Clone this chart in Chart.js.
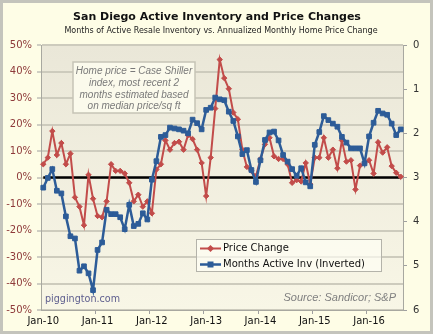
<!DOCTYPE html>
<html>
<head>
<meta charset="utf-8">
<script src="https://cdn.jsdelivr.net/npm/chart.js@4.4.1/dist/chart.umd.min.js"></script>
<style>
  html, body { margin: 0; padding: 0; background: #c4c4bc; }
</style>
</head>
<body>
<canvas id="invChart" width="433" height="334"></canvas>
<script>
// Monthly categories Jan-10 .. Aug-16
const monthNames = ['Jan','Feb','Mar','Apr','May','Jun','Jul','Aug','Sep','Oct','Nov','Dec'];
const yearSuffixes = ['10','11','12','13','14','15','16'];
const categories = [];
yearSuffixes.forEach(y => monthNames.forEach(m => categories.push(m + '-' + y)));
categories.length = 80;

// Annualized monthly home price change (%)
const priceChange = [
  5, 7.5, 17.5, 8.5, 13, 5, 9, -7.5, -11, -18, 1, -8,
  -14.5, -15, -9, 5, 2.5, 2.5, 1.5, -2, -9, -6.5, -11, -9,
  -13.5, 3, 5, 14, 10.5, 13, 13.5, 10.5, 16, 14.5, 10.5, 5.5,
  -7, 7.5, 26, 44.5, 37.5, 33.5, 24.5, 22, 10.5, 4, 2.5, 0.5,
  7, 12.5, 15, 8, 7, 7, 5, -2, -1, -1.5, 5.5, -2.5,
  7.5, 7.5, 15, 7.5, 10.5, 3.5, 14, 6, 6.5, -4.5, 4.5, 5.5,
  6.5, 1.5, 13.3, 9.4, 11.4, 4.3, 1.8, 0.3
];

// Months of active resale inventory (plotted on an inverted axis)
const monthsInventory = [
  3.23, 3.01, 2.81, 3.30, 3.36, 3.88, 4.33, 4.38, 5.11, 5.01, 5.17, 5.55,
  4.64, 4.47, 3.73, 3.83, 3.83, 3.90, 4.17, 3.62, 4.10, 4.05, 3.81, 3.95,
  3.05, 2.63, 2.08, 2.04, 1.87, 1.89, 1.91, 1.94, 2.00, 1.69, 1.77, 1.91,
  1.47, 1.42, 1.19, 1.23, 1.25, 1.51, 1.72, 2.07, 2.47, 2.38, 2.83, 3.10,
  2.61, 2.15, 1.98, 1.96, 2.16, 2.49, 2.64, 2.81, 2.96, 2.79, 3.11, 3.20,
  2.26, 1.97, 1.61, 1.70, 1.78, 1.85, 2.08, 2.21, 2.34, 2.34, 2.34, 2.68,
  2.07, 1.76, 1.49, 1.55, 1.58, 1.78, 2.04, 1.91
];

const zeroLevel = 0;
const noteLines = ['Home price = Case Shiller', 'index, most recent 2', 'months estimated based', 'on median price/sq ft'];

const RED = '#c24c4a';
const BLUE = '#2d5c98';

// background frame, plot gradient, titles, note box and legend
const decorations = {
  id: 'decorations',
  beforeDraw(chart) {
    const { ctx, width, height, chartArea: a } = chart;
    ctx.save();
    ctx.fillStyle = '#c4c4bc';
    ctx.fillRect(0, 0, width, height);
    ctx.fillStyle = '#fefde6';
    ctx.fillRect(3, 3, width - 6, height - 6);
    const g = ctx.createLinearGradient(0, a.top, 0, a.bottom);
    g.addColorStop(0, '#eae7d8');
    g.addColorStop(1, '#f8f6e6');
    ctx.fillStyle = g;
    ctx.fillRect(a.left, a.top, a.right - a.left, a.bottom - a.top);
    ctx.restore();
  },
  beforeDatasetsDraw(chart) {
    const { ctx } = chart;
    ctx.save();
    // note box
    ctx.fillStyle = '#fbfaec';
    ctx.strokeStyle = '#c6c4b6';
    ctx.lineWidth = 1.5;
    ctx.fillRect(73, 62, 122, 51);
    ctx.strokeRect(73, 62, 122, 51);
    ctx.fillStyle = '#7a7a7a';
    ctx.font = 'italic 10px "Liberation Sans"';
    ctx.textAlign = 'center';
    ctx.textBaseline = 'middle';
    noteLines.forEach((t, i) => ctx.fillText(t, 134, 71.5 + i * 11.7));
    ctx.restore();
  },
  afterDraw(chart) {
    const { ctx } = chart;
    ctx.save();
    ctx.textBaseline = 'middle';

    ctx.fillStyle = '#111';
    ctx.textAlign = 'center';
    ctx.font = 'bold 11px "DejaVu Sans"';
    ctx.fillText('San Diego Active Inventory and Price Changes', 217, 17);
    ctx.font = '8px "DejaVu Sans"';
    ctx.fillStyle = '#222';
    ctx.fillText('Months of Active Resale Inventory vs. Annualized Monthly Home Price Change', 221, 31);

    ctx.textAlign = 'left';
    ctx.fillStyle = '#5e5e8e';
    ctx.font = '9.6px "DejaVu Sans"';
    ctx.fillText('piggington.com', 45, 299);

    ctx.textAlign = 'right';
    ctx.fillStyle = '#808080';
    ctx.font = 'italic 11px "Liberation Sans"';
    ctx.fillText('Source: Sandicor; S&P', 396, 298);

    // legend
    ctx.fillStyle = 'rgba(255,255,246,0.65)';
    ctx.strokeStyle = '#b4b3aa';
    ctx.lineWidth = 1;
    ctx.fillRect(196.5, 239.5, 185, 32);
    ctx.strokeRect(196.5, 239.5, 185, 32);

    ctx.textAlign = 'left';
    const rows = chart.data.datasets.filter(d => d.showInLegend);
    rows.forEach((d, i) => {
      const y = 248.5 + i * 16;
      ctx.strokeStyle = d.borderColor;
      ctx.lineWidth = d.borderWidth;
      ctx.beginPath();
      ctx.moveTo(200, y);
      ctx.lineTo(221, y);
      ctx.stroke();
      ctx.fillStyle = d.borderColor;
      ctx.beginPath();
      if (d.pointStyle === 'rectRot') {
        ctx.moveTo(210.5, y - 3.5); ctx.lineTo(214, y); ctx.lineTo(210.5, y + 3.5); ctx.lineTo(207, y);
      } else {
        ctx.rect(207.5, y - 3, 6, 6);
      }
      ctx.closePath();
      ctx.fill();
      ctx.fillStyle = '#111';
      ctx.font = '10px "DejaVu Sans"';
      ctx.fillText(d.label, 223, y);
    });
    ctx.restore();
  }
};

Chart.defaults.font.family = '"DejaVu Sans"';
Chart.defaults.font.size = 10;

new Chart(document.getElementById('invChart'), {
  type: 'line',
  data: {
    labels: categories,
    datasets: [
      {
        label: 'zero',
        data: categories.map(() => zeroLevel),
        borderColor: '#000',
        borderWidth: 2.5,
        pointRadius: 0,
        yAxisID: 'y',
        order: 3
      },
      {
        label: 'Price Change',
        showInLegend: true,
        data: priceChange,
        borderColor: RED,
        backgroundColor: RED,
        borderWidth: 2,
        pointStyle: 'rectRot',
        pointRadius: 2.7,
        pointBorderWidth: 1,
        tension: 0,
        yAxisID: 'y',
        order: 2
      },
      {
        label: 'Months Active Inv (Inverted)',
        showInLegend: true,
        data: monthsInventory,
        borderColor: BLUE,
        backgroundColor: BLUE,
        borderWidth: 2.5,
        pointStyle: 'rect',
        pointRadius: 3.3,
        pointBorderWidth: 1,
        tension: 0,
        yAxisID: 'y2',
        order: 1
      }
    ]
  },
  options: {
    responsive: false,
    animation: false,
    layout: { padding: { top: 45, left: 0, right: 0, bottom: 0 } },
    plugins: {
      legend: { display: false },
      tooltip: { enabled: false }
    },
    scales: {
      x: {
        offset: true,
        afterFit(s) { s.height = 24; },
        grid: {
          offset: true,
          drawOnChartArea: false,
          tickLength: 4,
          color: ctx => (ctx.index > 0 && ctx.index % 12 === 0) ? '#a0a0a0' : 'rgba(0,0,0,0)'
        },
        border: { color: '#a8a8a0' },
        ticks: {
          autoSkip: false,
          maxRotation: 0,
          padding: 1,
          color: '#111',
          callback: (v, i) => categories[i].startsWith('Jan') ? categories[i] : ''
        }
      },
      y: {
        position: 'left',
        min: -50,
        max: 50,
        afterFit(s) { s.width = 41; },
        grid: { color: '#cdcbbd', lineWidth: 2, tickLength: 4, tickColor: '#a0a0a0', tickWidth: 1 },
        border: { color: '#a8a8a0' },
        ticks: { stepSize: 10, padding: 5, color: '#8e3a3a', callback: v => v + '%' }
      },
      y2: {
        position: 'right',
        reverse: true,
        min: 0,
        max: 6,
        afterFit(s) { s.width = 30; },
        grid: { drawOnChartArea: false, tickLength: 4, color: '#a0a0a0' },
        border: { color: '#a8a8a0' },
        ticks: { stepSize: 1, padding: 6, color: '#333' }
      }
    }
  },
  plugins: [decorations]
});
</script>
</body>
</html>
